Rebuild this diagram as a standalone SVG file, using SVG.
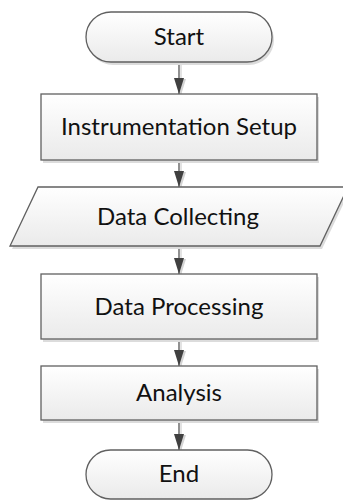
<svg xmlns="http://www.w3.org/2000/svg" width="343" height="500" viewBox="0 0 343 500">
  <defs>
    <linearGradient id="boxFill" x1="0" y1="0" x2="0" y2="1">
      <stop offset="0" stop-color="#ffffff"/>
      <stop offset="1" stop-color="#eaeaea"/>
    </linearGradient>
    <marker id="arrowHead" viewBox="0 0 16 10" refX="16" refY="5" markerWidth="16" markerHeight="10" markerUnits="userSpaceOnUse" orient="auto">
      <path d="M0,0 L16,5 L0,10 Z" fill="#404040"/>
    </marker>
    <marker id="arrowShadow" viewBox="0 0 16 10" refX="16" refY="5" markerWidth="16" markerHeight="10" markerUnits="userSpaceOnUse" orient="auto">
      <path d="M0,0 L16,5 L0,10 Z" fill="#d4d4d4"/>
    </marker>
  </defs>
  <style>
    .shape { fill: url(#boxFill); stroke: #606060; stroke-width: 1.3; }
    .shadow { fill: #dcdcdc; stroke: none; }
    .label { font-family: "Lato", "Liberation Sans", sans-serif; font-size: 24px; fill: #111111; text-anchor: middle; }
    .wire { stroke: #555555; stroke-width: 1.3; fill: none; marker-end: url(#arrowHead); }
    .wire-shadow { stroke: #d4d4d4; stroke-width: 1.3; fill: none; marker-end: url(#arrowShadow); }
  </style>

  <rect width="343" height="500" fill="#ffffff"/>

  <!-- connectors -->
  <g id="connectors">
    <g transform="translate(2,1)">
      <line class="wire-shadow" x1="179" y1="62" x2="179" y2="94"/>
      <line class="wire-shadow" x1="179" y1="160" x2="179" y2="187"/>
      <line class="wire-shadow" x1="179" y1="246" x2="179" y2="274"/>
      <line class="wire-shadow" x1="179" y1="339" x2="179" y2="366"/>
      <line class="wire-shadow" x1="179" y1="420" x2="179" y2="450"/>
    </g>
    <line class="wire" x1="179" y1="62" x2="179" y2="94"/>
    <line class="wire" x1="179" y1="160" x2="179" y2="187"/>
    <line class="wire" x1="179" y1="246" x2="179" y2="274"/>
    <line class="wire" x1="179" y1="339" x2="179" y2="366"/>
    <line class="wire" x1="179" y1="420" x2="179" y2="450"/>
  </g>

  <!-- terminator: Start -->
  <g id="start">
    <rect class="shadow" x="88" y="15" width="186" height="50" rx="25" ry="25"/>
    <rect class="shape" x="86" y="12" width="186" height="50" rx="25" ry="25"/>
    <text class="label" x="179" y="45">Start</text>
  </g>

  <!-- process: Instrumentation Setup -->
  <g id="instrumentation-setup">
    <rect class="shadow" x="43" y="97" width="276" height="66"/>
    <rect class="shape" x="41" y="94" width="276" height="66"/>
    <text class="label" x="179" y="135">Instrumentation Setup</text>
  </g>

  <!-- input/output: Data Collecting -->
  <g id="data-collecting">
    <polygon class="shadow" points="40,190 350,190 322,249 12,249"/>
    <polygon class="shape" points="38,187 348,187 320,246 10,246"/>
    <text class="label" x="178" y="225">Data Collecting</text>
  </g>

  <!-- process: Data Processing -->
  <g id="data-processing">
    <rect class="shadow" x="43" y="277" width="276" height="65"/>
    <rect class="shape" x="41" y="274" width="276" height="65"/>
    <text class="label" x="179" y="315">Data Processing</text>
  </g>

  <!-- process: Analysis -->
  <g id="analysis">
    <rect class="shadow" x="43" y="369" width="276" height="54"/>
    <rect class="shape" x="41" y="366" width="276" height="54"/>
    <text class="label" x="179" y="401">Analysis</text>
  </g>

  <!-- terminator: End -->
  <g id="end">
    <rect class="shape" x="86" y="450" width="186" height="49" rx="24.5" ry="24.5"/>
    <text class="label" x="179" y="482">End</text>
  </g>
</svg>
